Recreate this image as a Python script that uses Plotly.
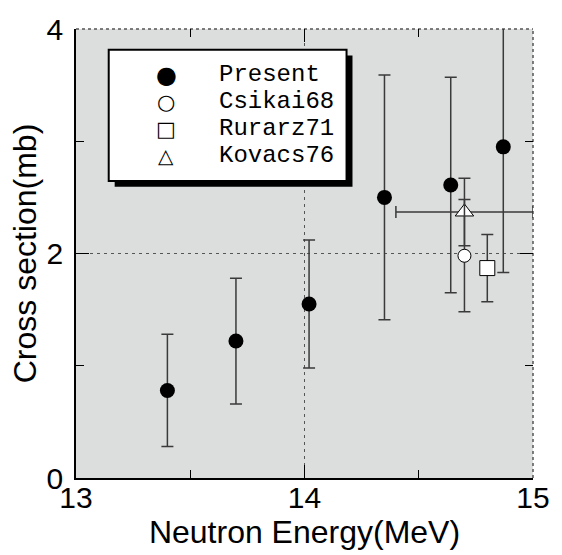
import plotly.graph_objects as go

# Present measurement
present_e = [13.40, 13.70, 14.02, 14.35, 14.64, 14.87]
present_xs = [0.78, 1.22, 1.55, 2.50, 2.61, 2.95]
present_err = [0.50, 0.56, 0.57, 1.09, 0.96, 1.12]

# Earlier measurements
csikai_e = [14.70]
csikai_xs = [1.98]
csikai_err = [0.50]

rurarz_e = [14.80]
rurarz_xs = [1.87]
rurarz_err = [0.30]

kovacs_e = [14.70]
kovacs_xs = [2.37]
kovacs_err = [0.30]
kovacs_eerr = [0.30]

legend_labels = ["Present", "Csikai68", "Rurarz71", "Kovacs76"]
legend_glyphs = ["\u25CF", "\u25CB", "\u25A1", "\u25B3"]
legend_glyph_sizes = [24, 21, 21, 20]

X_RANGE = [13, 15]
Y_RANGE = [0, 4]

FONT = "Liberation Sans, Arial, sans-serif"
ERR_COLOR = "#3a3a3a"
FRAME_GRID = "#555555"

fig = go.Figure()

def err(vals, w=6):
    return dict(type="data", array=vals, visible=True, color=ERR_COLOR,
                thickness=1.5, width=w)

fig.add_trace(go.Scatter(
    x=present_e, y=present_xs, mode="markers", name="Present",
    marker=dict(symbol="circle", size=15, color="black"),
    error_y=err(present_err), showlegend=False))
fig.add_trace(go.Scatter(
    x=kovacs_e, y=kovacs_xs, mode="markers", name="Kovacs76",
    marker=dict(symbol="triangle-up", size=16, color="white",
                line=dict(color="black", width=1)),
    error_y=err(kovacs_err), error_x=err(kovacs_eerr), showlegend=False))
fig.add_trace(go.Scatter(
    x=csikai_e, y=csikai_xs, mode="markers", name="Csikai68",
    marker=dict(symbol="circle", size=13, color="white",
                line=dict(color="black", width=1)),
    error_y=err(csikai_err), showlegend=False))
fig.add_trace(go.Scatter(
    x=rurarz_e, y=rurarz_xs, mode="markers", name="Rurarz71",
    marker=dict(symbol="square", size=15, color="white",
                line=dict(color="black", width=1)),
    error_y=err(rurarz_err), showlegend=False))

# ---- boxed key in the upper-left corner (paper fractions) ----
LX0, LX1 = 0.0716, 0.592
LY0, LY1 = 0.6616, 0.954
SYM_FX, TXT_FX = 0.242, 0.454           # horizontal placement inside the box
ROW_TOP, ROW_STEP = 0.193, 0.205        # vertical placement inside the box

def row_frac(i):
    return LY1 - (ROW_TOP + i * ROW_STEP) * (LY1 - LY0)

# shadow + white box
SH = 6 / 461
fig.add_shape(type="rect", xref="paper", yref="paper",
              x0=LX0 + SH, x1=LX1 + SH, y0=LY0 - SH, y1=LY1 - SH,
              fillcolor="black", line=dict(width=0), layer="above")
fig.add_shape(type="rect", xref="paper", yref="paper",
              x0=LX0, x1=LX1, y0=LY0, y1=LY1,
              fillcolor="white", line=dict(color="black", width=2), layer="above")

for i, (glyph, gsize, lab) in enumerate(zip(legend_glyphs, legend_glyph_sizes,
                                            legend_labels)):
    fig.add_annotation(x=LX0 + SYM_FX * (LX1 - LX0), y=row_frac(i),
                       xref="paper", yref="paper", text=glyph,
                       showarrow=False, xanchor="center", yanchor="middle",
                       font=dict(family="DejaVu Sans", size=gsize, color="black"))
    fig.add_annotation(x=LX0 + TXT_FX * (LX1 - LX0), y=row_frac(i),
                       xref="paper", yref="paper", text=lab,
                       showarrow=False, xanchor="left", yanchor="middle",
                       font=dict(family="Liberation Mono, monospace", size=24,
                                 color="black"))

# dashed top and right frame edges
fig.add_shape(type="line", xref="paper", yref="paper", x0=0, x1=1, y0=1, y1=1,
              line=dict(color=FRAME_GRID, width=1.5, dash="3px,3px"), layer="between")
fig.add_shape(type="line", xref="paper", yref="paper", x0=1, x1=1, y0=0, y1=1,
              line=dict(color=FRAME_GRID, width=1.5, dash="3px,3px"), layer="between")

grid = dict(showgrid=True, gridcolor=FRAME_GRID, gridwidth=1, griddash="3px,4px")
tickstyle = dict(ticks="inside", ticklen=13, tickwidth=1, tickcolor="black")

fig.update_layout(
    width=562, height=555,
    margin=dict(l=76, r=25, t=17, b=77),
    paper_bgcolor="white", plot_bgcolor="#dcdddd",
    font=dict(family=FONT, size=30, color="black"),
    xaxis=dict(range=X_RANGE, dtick=1, tick0=13, showline=True, linecolor="black",
               linewidth=1.5, zeroline=False,
               minor=dict(dtick=0.5, ticks="inside", ticklen=8, tickcolor="black",
                          showgrid=False),
               title=dict(text="Neutron Energy(MeV)", standoff=0,
                          font=dict(size=32)),
               tickfont=dict(size=30), ticklabelstandoff=-8, **grid, **tickstyle),
    yaxis=dict(range=Y_RANGE, dtick=2, tick0=0, showline=True, linecolor="black",
               linewidth=1.5, zeroline=False,
               minor=dict(dtick=1, ticks="inside", ticklen=8, tickcolor="black",
                          showgrid=False),
               title=dict(text="Cross section(mb)", standoff=0, font=dict(size=32)),
               tickfont=dict(size=30), ticklabelstandoff=5, **grid, **tickstyle),
    xaxis2=dict(range=X_RANGE, overlaying="x", side="top", dtick=1, tick0=13,
                showticklabels=False, showgrid=False, showline=False, zeroline=False,
                minor=dict(dtick=0.5, ticks="inside", ticklen=8, tickcolor="black"),
                **tickstyle),
    yaxis2=dict(range=Y_RANGE, overlaying="y", side="right", dtick=2, tick0=0,
                showticklabels=False, showgrid=False, showline=False, zeroline=False,
                minor=dict(dtick=1, ticks="inside", ticklen=8, tickcolor="black"),
                **tickstyle),
)

# invisible trace so the mirrored tick axes are rendered
fig.add_trace(go.Scatter(x=[13], y=[0], xaxis="x2", yaxis="y2", mode="markers",
                         marker=dict(opacity=0), showlegend=False, hoverinfo="skip"))

fig.write_html("out.html")
